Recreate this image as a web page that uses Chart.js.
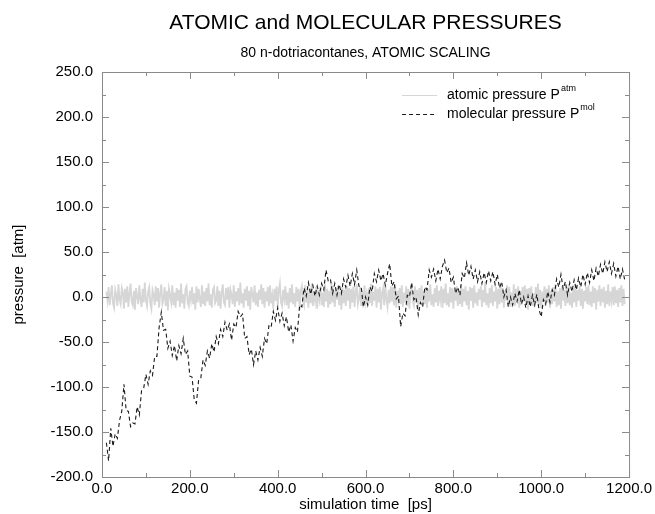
<!DOCTYPE html>
<html>
<head>
<meta charset="utf-8">
<script src="https://cdn.jsdelivr.net/npm/chart.js@4.4.1/dist/chart.umd.min.js"></script>
<style>
  html, body { margin: 0; padding: 0; background: #fff; }
  #wrap { width: 655px; height: 514px; }
</style>
</head>
<body>
<div id="wrap"><canvas id="pressChart" width="655" height="514"></canvas></div>
<script>
// sampling of the trajectory (ps)
const T0 = 10;
const DT_ATM = 2.5;   // atomic pressure written every 2.5 ps
const DT_MOL = 5;     // molecular pressure every 5 ps

// atomic pressure P_atm [atm]
const atomicP = [
  6,-4,11,-9,3,13,-7,-12,8,2,-10,14,-3,-8,10,5,-13,9,-6,12,
  -11,4,15,-5,-9,7,-14,10,1,-8,13,-2,-11,9,-6,16,-4,-10,6,11,
  -7,-13,8,3,-9,12,-5,10,-12,4,14,-8,-3,11,-10,7,-15,9,2,-6,
  13,-9,5,-12,10,-4,8,-11,15,-7,3,-13,9,12,-6,-10,7,-3,11,-8,
  4,-14,12,-6,9,-2,-11,13,-8,6,-10,10,-5,15,-9,3,-12,8,11,-7,
  -4,12,-10,7,-13,5,14,-6,-9,10,-3,11,-12,8,2,-8,13,-11,6,-5,
  10,-9,16,-7,4,-12,9,-4,12,-10,7,-14,11,3,-6,13,-9,5,-11,8,
  -3,14,-8,10,-12,6,-5,11,-10,13,-7,2,-13,9,-4,12,-11,7,15,-6,
  -10,8,-2,12,-9,5,-13,10,-6,14,-8,4,-11,11,-5,9,-14,7,12,-4,
  -9,13,-6,3,-12,10,-7,15,-10,6,-4,11,-13,8,-2,12,-9,5,-11,14,
  -5,9,-12,7,-8,16,-6,4,-11,10,-3,13,-9,6,-14,11,-7,8,-10,12,
  -4,10,-13,9,-6,12,-11,5,14,-8,-2,11,-10,7,-12,13,-5,3,-9,10,
  -7,15,-10,6,-4,12,-12,9,-6,11,-14,4,10,-9,13,-3,-11,8,-7,12,
  -5,11,-9,14,-12,7,-3,10,-8,13,-11,5,-6,12,-10,9,-13,6,11,-4,
  -9,12,-7,8,-15,10,-4,13,-10,6,-8,11,-12,9,-5,14,-9,3,-11,10,
  -6,13,-10,7,-3,12,-12,9,-7,15,-9,4,-11,11,-6,10,-13,8,-4,12,
  -10,6,-8,14,-11,9,-5,12,-9,7,-14,11,-4,10,-12,13,-7,5,-10,9,
  -3,12,-11,8,-6,16,-9,4,-12,10,-7,13,-10,6,-5,11,-13,9,-8,12,
  -6,10,-12,7,-4,13,-9,11,-11,5,-8,14,-10,9,-3,12,-12,7,-9,11,
  -5,13,-8,9,-14,10,-6,12,-10,4,-11,11,-7,15,-9,8,-12,6,-4,12,
  -10,9,-6,13,-12,7,-8,11,-5,14,-11,6,-9,10,-13,12,-4,8,-10,11,
  -7,14,-9,5,-12,10,-6,13,-11,8,-4,12,-10,9,-13,7,-5,11,-8,13,
  -9,6,-11,12,-7,10,-14,8,-5,13,-10,9,-6,11,-12,7,-8,14,-10,6,
  -4,11,-9,12,-7,8,-11,10,-6,13,-10,9,-8
];

// molecular pressure P_mol [atm]
const molecularP = [
  -162,-182,-146,-166,-152,-157,-137,-127,-97,-126,-127,-144,-140,-141,-122,-131,-104,-101,-86,-97,
  -82,-87,-66,-66,-34,-17,-37,-36,-57,-49,-65,-54,-71,-54,-63,-46,-64,-60,-88,-89,
  -114,-118,-92,-90,-70,-76,-60,-68,-52,-61,-44,-52,-36,-44,-28,-37,-30,-48,-30,-34,
  -16,-22,-19,-46,-44,-64,-58,-75,-60,-70,-56,-66,-46,-52,-32,-34,-16,-26,-12,-27,
  -18,-32,-22,-39,-31,-49,-34,-39,-9,-11,10,1,16,3,13,1,12,2,15,8,
  30,18,20,4,15,2,14,4,20,11,24,12,26,14,30,12,12,-11,0,-9,
  11,6,26,17,30,18,26,13,26,37,12,17,-2,1,-33,-18,-21,2,0,16,
  -3,0,-20,-6,-11,11,8,30,22,31,18,31,20,34,41,27,32,16,22,4,
  11,2,26,21,38,24,34,20,30,17,28,15,27,16,29,18,28,14,25,10,
  17,0,8,-11,0,-9,4,-5,8,-8,0,-12,1,-11,2,-9,3,-14,-22,-3,
  -8,6,-6,8,2,20,11,25,9,17,2,16,6,19,8,21,11,25,14,27,
  16,30,18,32,23,36,26,39,28,39,26,37,23,34,20,31,19
];

const xTicks = [0, 200, 400, 600, 800, 1000, 1200];
const yTicks = [-200, -150, -100, -50, 0, 50, 100, 150, 200, 250];

const titleText = 'ATOMIC and MOLECULAR PRESSURES';
const subtitleText = '80 n-dotriacontanes, ATOMIC SCALING';
const seriesNames = ['atomic pressure P', 'molecular pressure P'];
const seriesSup = ['atm', 'mol'];

const FONT = "'Liberation Sans', Arial, Helvetica, sans-serif";
Chart.defaults.font.family = FONT;
Chart.defaults.color = '#000';

function toPoints(vals, dt) {
  return vals.map((v, i) => ({ x: T0 + i * dt, y: v }));
}

// titles centred over the plot box
const boxTitles = {
  id: 'boxTitles',
  afterDraw(chart) {
    const { ctx, chartArea: a } = chart;
    const cx = (a.left + a.right) / 2;
    ctx.save();
    ctx.fillStyle = '#000';
    ctx.textAlign = 'center';
    ctx.textBaseline = 'middle';
    ctx.font = '21px ' + FONT;
    ctx.fillText(titleText, cx, 23);
    ctx.font = '14px ' + FONT;
    ctx.fillText(subtitleText, cx, 53);
    ctx.restore();
  }
};

// box frame with inward ticks on all four sides
const frameTicks = {
  id: 'frameTicks',
  afterDraw(chart) {
    const { ctx, chartArea: a, scales: { x, y } } = chart;
    ctx.save();
    ctx.strokeStyle = '#8a8a8a';
    ctx.lineWidth = 1;
    ctx.strokeRect(a.left + 0.5, a.top + 0.5, a.right - a.left, a.bottom - a.top);
    ctx.beginPath();
    for (let t = 0; t <= 1200; t += 100) {
      const px = Math.round(x.getPixelForValue(t)) + 0.5;
      const len = t % 200 === 0 ? 7 : 4;
      ctx.moveTo(px, a.bottom); ctx.lineTo(px, a.bottom - len);
      ctx.moveTo(px, a.top); ctx.lineTo(px, a.top + len);
    }
    for (let v = -200; v <= 250; v += 25) {
      const py = Math.round(y.getPixelForValue(v)) + 0.5;
      const len = v % 50 === 0 ? 7 : 4;
      ctx.moveTo(a.left, py); ctx.lineTo(a.left + len, py);
      ctx.moveTo(a.right, py); ctx.lineTo(a.right - len, py);
    }
    ctx.stroke();
    ctx.restore();
  }
};

// legend in the upper right of the plot, with superscripts
const insideLegend = {
  id: 'insideLegend',
  afterDraw(chart) {
    const { ctx, chartArea: a } = chart;
    const x0 = a.right - 227, x1 = a.right - 192, tx = a.right - 182;
    const rows = [a.top + 23, a.top + 42];
    ctx.save();
    chart.data.datasets.forEach((ds, i) => {
      const yy = rows[i];
      ctx.beginPath();
      ctx.strokeStyle = ds.borderColor;
      ctx.lineWidth = 1;
      ctx.setLineDash(ds.borderDash || []);
      ctx.moveTo(x0, yy + 0.5); ctx.lineTo(x1, yy + 0.5);
      ctx.stroke();
      ctx.setLineDash([]);
      ctx.fillStyle = '#000';
      ctx.textBaseline = 'middle';
      ctx.font = '14px ' + FONT;
      ctx.fillText(seriesNames[i], tx, yy);
      const w = ctx.measureText(seriesNames[i]).width;
      ctx.font = '9px ' + FONT;
      ctx.fillText(seriesSup[i], tx + w + 1, yy - 6);
    });
    ctx.restore();
  }
};

const ctx = document.getElementById('pressChart');
const pressChart = new Chart(ctx, {
  type: 'line',
  data: {
    datasets: [
      {
        label: 'atomic pressure',
        data: toPoints(atomicP, DT_ATM),
        borderColor: '#d6d6d6',
        borderWidth: 1.8,
        pointRadius: 0,
        tension: 0,
        order: 2
      },
      {
        label: 'molecular pressure',
        data: toPoints(molecularP, DT_MOL),
        borderColor: '#1a1a1a',
        borderWidth: 1.1,
        borderDash: [4, 3],
        pointRadius: 0,
        tension: 0,
        order: 1
      }
    ]
  },
  options: {
    responsive: false,
    animation: false,
    layout: { padding: { left: 10, right: 16, top: 72, bottom: 0 } },
    plugins: {
      legend: { display: false },
      tooltip: { enabled: false },
      title: { display: false }
    },
    scales: {
      x: {
        type: 'linear',
        min: 0,
        max: 1200,
        afterBuildTicks(s) { s.ticks = xTicks.map(v => ({ value: v })); },
        afterFit(s) { s.height = 37; },
        ticks: {
          font: { size: 15 },
          color: '#000',
          padding: 3,
          maxRotation: 0,
          callback: v => v.toFixed(1)
        },
        grid: { display: false, drawTicks: false },
        border: { display: false },
        title: {
          display: true,
          text: 'simulation time  [ps]',
          font: { size: 15 },
          color: '#000',
          padding: { top: 0, bottom: 0 }
        }
      },
      y: {
        min: -200,
        max: 250,
        afterBuildTicks(s) { s.ticks = yTicks.map(v => ({ value: v })); },
        afterFit(s) { s.width = 92; },
        ticks: {
          font: { size: 15 },
          color: '#000',
          padding: 9,
          callback: v => v.toFixed(1)
        },
        grid: { display: false, drawTicks: false },
        border: { display: false },
        title: {
          display: true,
          text: 'pressure  [atm]',
          font: { size: 15 },
          color: '#000',
          padding: { top: 0, bottom: 0 }
        }
      }
    }
  },
  plugins: [boxTitles, frameTicks, insideLegend]
});
</script>
</body>
</html>
